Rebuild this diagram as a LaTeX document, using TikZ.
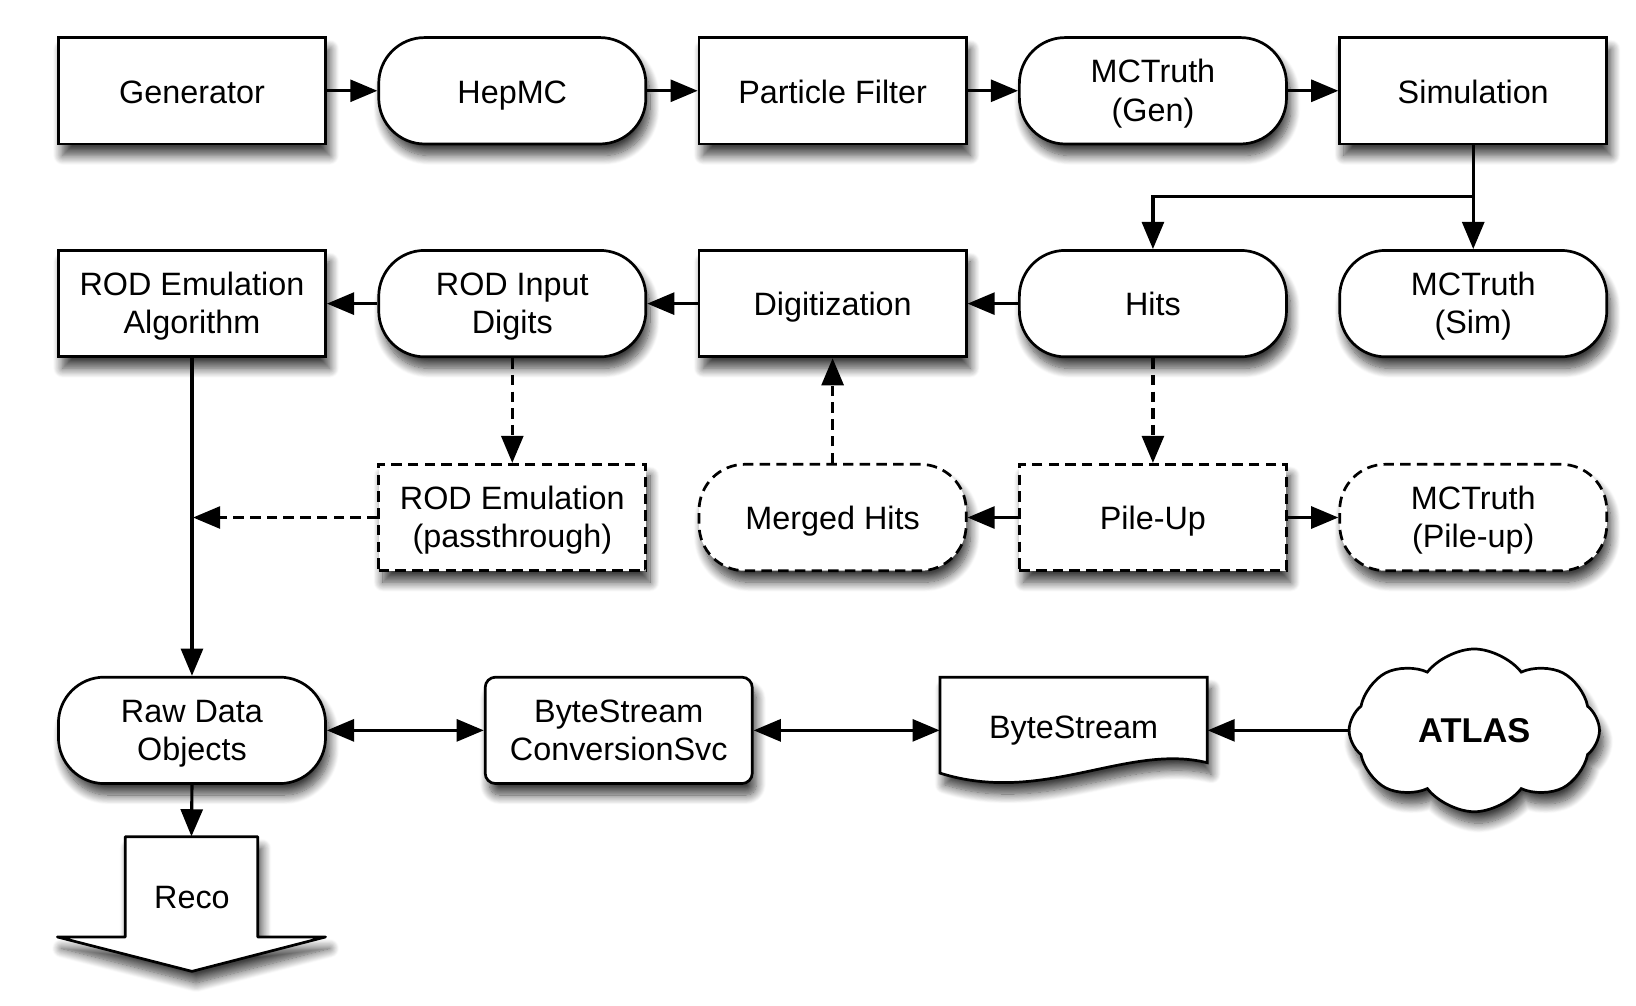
\documentclass[tikz,border=0pt]{standalone}
\usepackage{fontspec}
\setmainfont{Liberation Sans}
\usetikzlibrary{arrows.meta,shapes.symbols,shadows.blur}
\newcommand{\mystrutA}{\rule[-3.3pt]{0pt}{18.4pt}}
\newcommand{\mystrutB}{\rule[-3.3pt]{0pt}{10pt}}
\newcommand{\mlst}{\rule{0pt}{13.8pt}}
\begin{document}
\begin{tikzpicture}[x=0.5pt,y=-0.5pt,
  every node/.style={font=\fontsize{15.5}{18.5}\selectfont, align=center},
  shad/.style={blur shadow={shadow xshift=2pt,shadow yshift=-5.5pt,shadow blur radius=4.5pt,shadow opacity=75,shadow blur steps=12}},
  base/.style={draw, line width=1.3pt, fill=white, minimum width=128pt, minimum height=51pt, inner sep=0pt, shad,
    execute at begin node=\mystrutA, execute at end node=\mystrutB},
  procbox/.style={base},
  databox/.style={base, rounded corners=22pt},
  dprocbox/.style={base, dash pattern=on 5pt off 3pt},
  ddatabox/.style={base, rounded corners=22pt, dash pattern=on 5pt off 3pt},
  svcbox/.style={base, rounded corners=5pt},
  outl/.style={line width=1.3pt, fill=white, shad},
  conn/.style={line width=1.5pt, -{Triangle[length=13pt,width=10.5pt,fill=black,color=black]}},
  biconn/.style={line width=1.5pt, {Triangle[length=13pt,width=10.5pt,fill=black,color=black]}-{Triangle[length=13pt,width=10.5pt,fill=black,color=black]}},
  dconn/.style={line width=1.5pt, dash pattern=on 5pt off 3pt, -{Triangle[length=13pt,width=10.5pt,fill=black,color=black]}},
]
\useasboundingbox (0,0) rectangle (1568,964);
% row 1
\node[procbox] (gen) at (184,87) {Generator};
\node[databox] (hep) at (491,87) {HepMC};
\node[procbox] (pf) at (798,87) {Particle Filter};
\node[databox] (mcg) at (1105,87) {\mlst MCTruth\\(Gen)};
\node[procbox] (sim) at (1412,87) {Simulation};
% row 2
\node[procbox] (rea) at (184,291) {\mlst ROD Emulation\\Algorithm};
\node[databox] (rid) at (491,291) {\mlst ROD Input\\Digits};
\node[procbox] (dig) at (798,291) {Digitization};
\node[databox] (hits) at (1105,291) {Hits};
\node[databox] (mcs) at (1412,291) {\mlst MCTruth\\(Sim)};
% row 3
\node[dprocbox] (rpt) at (491,496) {\mlst ROD Emulation\\(passthrough)};
\node[ddatabox] (mh) at (798,496) {Merged Hits};
\node[dprocbox] (pu) at (1105,496) {Pile-Up};
\node[ddatabox] (mcp) at (1412,496) {\mlst MCTruth\\(Pile-up)};
% row 4
\node[databox] (raw) at (184,700) {\mlst Raw Data\\Objects};
\node[svcbox] (bcs) at (593,700) {\mlst ByteStream\\ConversionSvc};
\draw[outl] (901,649) -- (1157,649) -- (1157,731) .. controls (1080,712) and (1000,772) .. (901,741) -- cycle;
\node[minimum width=128pt, minimum height=51pt, inner sep=0pt] (bs) at (1029,700) {\raisebox{2pt}{ByteStream}};
\node[cloud, draw, fill=white, line width=1.3pt, cloud puffs=8, cloud puff arc=105, aspect=1.55,
      minimum width=120pt, minimum height=78pt, inner sep=0pt, shad,
      font=\fontsize{16.5}{19}\selectfont\bfseries] (atlas) at (1413,700) {ATLAS};
% reco arrow
\draw[outl, line join=round] (120,802) -- (247,802) -- (247,898) -- (312,898) -- (184,931) -- (55,898) -- (120,898) -- cycle;
\node[minimum width=63.5pt, minimum height=48pt, inner sep=0pt] (reco) at (183.5,850) {};
\node (recotext) at (184,860) {Reco};
% connectors
\draw[conn] (gen) -- (hep);
\draw[conn] (hep) -- (pf);
\draw[conn] (pf) -- (mcg);
\draw[conn] (mcg) -- (sim);
\draw[conn] (sim.south) -- (mcs.north);
\coordinate (br) at (1412,188);
\draw[conn] (br) -| (hits.north);
\draw[conn] (hits) -- (dig);
\draw[conn] (dig) -- (rid);
\draw[conn] (rid) -- (rea);
\draw[dconn] (hits.south) -- (pu.north);
\draw[dconn] (rid.south) -- (rpt.north);
\draw[dconn] (mh.north) -- (dig.south);
\draw[conn] (pu) -- (mh);
\draw[conn] (pu) -- (mcp);
\coordinate (jn) at (185,496);
\draw[dconn] (rpt.west) -- (jn);
\draw[conn] (rea.south) -- (raw.north);
\draw[conn] (raw.south) -- (reco.north);
\draw[biconn] (raw.east) -- (bcs.west);
\draw[biconn] (bcs.east) -- (bs.west);
\draw[conn] (atlas.west) -- (bs.east);
\end{tikzpicture}
\end{document}
